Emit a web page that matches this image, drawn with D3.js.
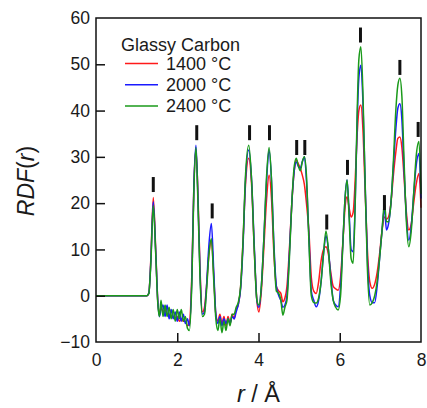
<!DOCTYPE html>
<html lang="en">
<head>
    <meta charset="UTF-8">
    <title>Glassy Carbon RDF</title>
    <style>
        body, html {
            margin: 0;
            padding: 0;
            background-color: #fff;
            font-family: Arial, "Liberation Sans", sans-serif;
        }
    </style>
</head>
<body>
    <svg id="svg" width="427" height="408"></svg>
    <script src="https://d3js.org/d3.v7.min.js"></script>
    <script>
        // r values (Å) shared by all three curves
        const rVals = [0, 1.25, 1.3, 1.35, 1.41, 1.47, 1.52, 1.56, 1.6, 1.65,
            1.7, 1.75, 1.8, 1.85, 1.9, 1.95, 2.0, 2.05, 2.1, 2.15,
            2.2, 2.25, 2.3, 2.36, 2.41, 2.46, 2.51, 2.56, 2.62, 2.67,
            2.72, 2.78, 2.84, 2.9, 2.95, 3.0, 3.05, 3.1, 3.15, 3.2,
            3.25, 3.3, 3.35, 3.4, 3.45, 3.5, 3.56, 3.62, 3.68, 3.76,
            3.83, 3.9, 3.96, 4.01, 4.07, 4.13, 4.2, 4.26, 4.32, 4.38,
            4.44, 4.5, 4.55, 4.6, 4.65, 4.7, 4.76, 4.82, 4.88, 4.93,
            4.98, 5.03, 5.08, 5.13, 5.18, 5.24, 5.3, 5.36, 5.42, 5.48,
            5.54, 5.6, 5.66, 5.72, 5.78, 5.84, 5.9, 5.96, 6.02, 6.08,
            6.13, 6.18, 6.23, 6.28, 6.33, 6.38, 6.43, 6.47, 6.52, 6.57,
            6.62, 6.68, 6.74, 6.8, 6.86, 6.92, 6.98, 7.04, 7.1, 7.15,
            7.2, 7.26, 7.32, 7.38, 7.43, 7.48, 7.53, 7.58, 7.64, 7.7,
            7.76, 7.82, 7.88, 7.95, 8.0]

        const rdf1400 = [0, 0, 0.5, 8, 21.2, 10, -1, -4, -2.5, -3.5,
            -3, -4, -4, -4.5, -4.5, -5, -4.5, -5.5, -5, -5.5,
            -5.5, -6.5, -6, 5, 24, 31.5, 22, 6, -3.5, -2.5,
            2, 9, 12, 4, -4, -5.5, -4, -6, -4.5, -6.5,
            -4.5, -6, -4, -5, -3, -2, 2, 12, 24, 29.7,
            24, 9, -1, -3.5, 1, 10, 21, 26, 21, 9,
            2, 1, 0.5, -1.3, -0.5, 2, 10, 20, 27, 29.3,
            28.5, 27.5, 26, 24, 20, 14, 4, 1, 0.5, 3,
            7.5, 10, 10.6, 9, 5, 2, 1.5, 1.2, 4, 12,
            19, 21.4, 19, 17, 18, 25, 35, 40, 41.2, 36,
            24, 10, 3, 1.6, 2.5, 5, 9, 14, 17, 16.5,
            17, 20, 26, 31, 34, 34.3, 32, 26, 18, 14.2,
            15.5, 20, 24, 26.4, 19]

        const rdf2000 = [0, 0, 0.5, 7.5, 20.3, 9.5, -1, -4.5, -3, -2,
            -4.5, -2, -5, -3, -5, -3.5, -5.5, -3.5, -5.5, -4,
            -6, -5, -6.5, 4, 24, 32.5, 21, 5, -4, -3.5,
            2, 11, 15.6, 5, -4, -6, -4.5, -6.5, -5, -6,
            -5, -6, -4.5, -5, -3.5, -2, 1.5, 11, 25, 31.5,
            25, 10, -1, -2.5, 2, 12, 25, 31.5, 25, 11,
            2, 0, -1, -2.5, -2, 0, 9, 20, 27, 28.9,
            28, 27.6, 29, 30, 25, 13, 1, -1, -2.4, -1,
            3, 9, 13, 10, 4, -1, -2, -2.4, 2, 12,
            21, 25, 18, 10, 9.5, 20, 38, 47, 49.8, 42,
            26, 8, 0, -1.5, -1.5, 2, 8, 14, 18.9, 14.2,
            15.5, 20, 28, 36, 40.5, 41.5, 38, 28, 17, 12,
            15, 22, 28, 30.7, 21]

        const rdf2400 = [0, 0, 0.5, 7, 19.5, 9, -1.5, -4.5, -1, -4.5,
            -2, -4.5, -2.5, -5, -3, -5.5, -3, -5, -3, -5.5,
            -4.5, -7, -7.5, 3, 23, 32, 20, 4, -4.5, -4,
            1, 9, 12.3, 3, -5, -7.5, -5, -8, -5.5, -7.5,
            -5, -6.5, -4, -4, -2.5, -1.5, 2, 12, 26, 32.5,
            25, 9, -1, -2, 2, 12, 26, 32, 25, 10,
            1, 0.5, -1, -4.2, -2.5, -1, 8, 20, 28, 29.7,
            28, 27, 29, 30, 26, 12, 0, -1.5, -1.6, -0.5,
            3, 9, 14, 10, 3, -1, -2.5, -3.1, 0, 12,
            21, 25, 17, 8, 7, 20, 40, 51, 53.8, 44,
            26, 6, -2, -1.5, 0, 3, 8, 14, 20, 16,
            16, 20, 29, 40, 45.5, 47, 43, 30, 16, 10.6,
            14, 22, 30, 33.3, 22]

        const seriesNames = ['1400 °C', '2000 °C', '2400 °C']
        const seriesColors = ['#ff1a1a', '#1a1aff', '#1a9a1a']

        // peak markers: r position and value at the marker's lower end
        const markerR = [1.41, 2.48, 2.86, 3.78, 4.27, 4.94, 5.14, 5.68, 6.19, 6.51, 7.1, 7.48, 7.93]
        const markerV = [22.4, 33.6, 16.7, 33.6, 33.6, 30.4, 30.4, 14.3, 26.1, 54.7, 18.5, 47.7, 34.3]

        const xTicks = [0, 2, 4, 6, 8]
        const yTicks = [-10, 0, 10, 20, 30, 40, 50, 60]

        const margin = { top: 18, right: 6, bottom: 66, left: 96 }
        const W = 427, H = 408

        const xscale = d3.scaleLinear().domain([0, 8]).range([margin.left, W - margin.right])
        const yscale = d3.scaleLinear().domain([-10, 60]).range([H - margin.bottom, margin.top])

        const svg = d3.select('#svg')

        // curves
        const line = d3.line()
            .x(d => xscale(d[0]))
            .y(d => yscale(d[1]))
            .curve(d3.curveMonotoneX)

        const allSeries = [rdf1400, rdf2000, rdf2400]
        allSeries.forEach((vals, i) => {
            svg.append('path')
                .datum(rVals.map((r, j) => [r, vals[j]]))
                .attr('d', line)
                .attr('fill', 'none')
                .attr('stroke', seriesColors[i])
                .attr('stroke-width', 1.5)
                .attr('stroke-linejoin', 'round')
        })

        // markers
        svg.append('g')
            .selectAll('line')
            .data(markerR.map((r, i) => [r, markerV[i]]))
            .enter()
            .append('line')
            .attr('x1', d => xscale(d[0]))
            .attr('x2', d => xscale(d[0]))
            .attr('y1', d => yscale(d[1]))
            .attr('y2', d => yscale(d[1]) - 15)
            .attr('stroke', '#111')
            .attr('stroke-width', 3)

        // axes with inward ticks
        const bottomAxis = d3.axisBottom(xscale).tickValues(xTicks).tickSizeInner(-9).tickSizeOuter(0).tickPadding(12)
        const gx = svg.append('g')
            .attr('transform', `translate(0, ${H - margin.bottom})`)
            .call(bottomAxis)
        const leftAxis = d3.axisLeft(yscale).tickValues(yTicks).tickSizeInner(-9).tickSizeOuter(0).tickPadding(6)
        const gy = svg.append('g')
            .attr('transform', `translate(${margin.left}, 0)`)
            .call(leftAxis)
        ;[gx, gy].forEach(g => {
            g.select('.domain').remove()
            g.selectAll('.tick line').attr('stroke', '#111').attr('stroke-width', 1.5)
            g.selectAll('text')
                .attr('font-size', '17.5px')
                .attr('font-family', 'Arial, "Liberation Sans", sans-serif')
                .attr('fill', '#1a1a1a')
        })
        gx.selectAll('.tick').filter(d => d === 0 || d === 8).select('line').remove()
        gy.selectAll('.tick').filter(d => d === -10 || d === 60).select('line').remove()

        // frame
        svg.append('rect')
            .attr('x', xscale(0))
            .attr('y', yscale(60))
            .attr('width', xscale(8) - xscale(0))
            .attr('height', yscale(-10) - yscale(60))
            .attr('fill', 'none')
            .attr('stroke', '#111')
            .attr('stroke-width', 1.5)

        // axis titles
        svg.append('text')
            .attr('x', (xscale(0) + xscale(8)) / 2)
            .attr('y', 402)
            .attr('text-anchor', 'middle')
            .attr('font-size', '23.5px')
            .attr('fill', '#1a1a1a')
            .html('<tspan font-style="italic">r</tspan> / Å')

        svg.append('text')
            .attr('transform', `translate(34, 181) rotate(-90)`)
            .attr('text-anchor', 'middle')
            .attr('font-size', '23px')
            .attr('fill', '#1a1a1a')
            .html('<tspan font-style="italic">RDF</tspan>(<tspan font-style="italic">r</tspan>)')

        // legend
        const legend = svg.append('g').attr('font-size', '18px').attr('fill', '#1a1a1a')
        legend.append('text').attr('x', 121).attr('y', 50.5).text('Glassy Carbon')
        seriesNames.forEach((name, i) => {
            const y = 63.5 + i * 21.2
            legend.append('line')
                .attr('x1', 125).attr('x2', 158)
                .attr('y1', y).attr('y2', y)
                .attr('stroke', seriesColors[i])
                .attr('stroke-width', 1.5)
            legend.append('text').attr('x', 166).attr('y', y + 6.5).text(name)
        })
    </script>
</body>
</html>
